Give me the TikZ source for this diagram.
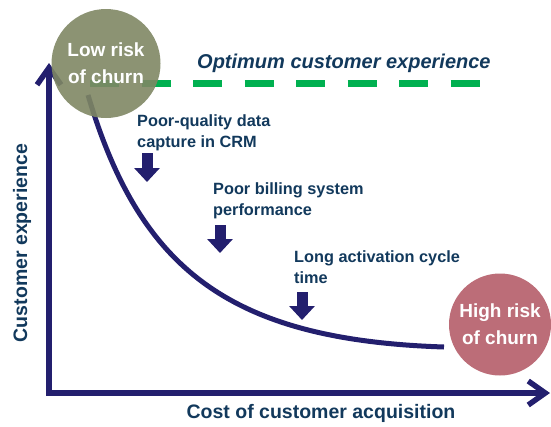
\documentclass[tikz,border=0pt]{standalone}
\usepackage{fontspec}
\setmainfont{Liberation Sans}
\usepackage{xcolor}
\usetikzlibrary{arrows.meta,positioning,calc}

\definecolor{navy}{HTML}{231F6E}
\definecolor{inkblue}{HTML}{12395C}
\definecolor{olive}{HTML}{7F8764}
\definecolor{rose}{HTML}{B55D69}
\definecolor{okgreen}{HTML}{00B050}

\begin{document}
\begin{tikzpicture}[
    x=1pt,y=-1pt,
    axis/.style={draw=navy, line width=5.5pt, {Straight Barb[length=17pt,width=24pt]}-{Straight Barb[length=17pt,width=24pt]}},
    riskcircle/.style={circle, fill opacity=0.9, text opacity=1, inner sep=0pt, text=white, align=center,
        font=\fontsize{19}{27}\selectfont\bfseries},
    cause/.style={anchor=north west, inner sep=0pt, align=left, text=inkblue,
        font=\fontsize{16.3}{21.5}\selectfont\bfseries},
    dnarrow/.style={draw=navy, line width=11pt, -{Triangle[width=25pt,length=14pt]}},
    axislabel/.style={text=inkblue, font=\fontsize{19.5}{22}\selectfont\bfseries}
]
    \useasboundingbox (0,0) rectangle (551,426);

    % Axes
    \coordinate (ytip) at (49,63);
    \coordinate (origin) at (49,393);
    \coordinate (xtip) at (550,393);
    \draw[axis] (ytip) -- (origin) -- (xtip);
    \node[axislabel, anchor=base] (xlabel) at (321,418) {Cost of customer acquisition};
    \node[axislabel, rotate=90] (ylabel) at (22,243) {Customer experience};

    % Optimum line
    \coordinate (optL) at (90,83);
    \coordinate (optR) at (481,83);
    \draw[okgreen, line width=7pt, dash pattern=on 29pt off 22.5pt] (optL) -- (optR);
    \node[anchor=base west, inner sep=0pt, text=inkblue,
        font=\fontsize{20}{24}\selectfont\bfseries\itshape] (optimum) at (197,68)
        {Optimum customer experience};

    % Curve
    \coordinate (start) at (88,95);
    \coordinate (finish) at (444,347);
    \draw[navy, line width=5pt] (start) .. controls (140,270) and (230,340) .. (finish);

    % Causes
    \node[cause] (cause1) at (137,114) {Poor-quality data\\capture in CRM};
    \node[cause] (cause2) at (213,182) {Poor billing system\\performance};
    \node[cause] (cause3) at (294,250) {Long activation cycle\\time};
    \draw[dnarrow] (147,153) -- (147,182);
    \draw[dnarrow] (220,225) -- (220,253);
    \draw[dnarrow] (302,292) -- (302,320);

    % Risk circles
    \node[riskcircle, fill=olive, minimum size=109pt] (low) at (106,63.5) {Low risk\\of churn};
    \node[riskcircle, fill=rose, minimum size=102pt] (high) at (500,324.5) {High risk\\of churn};
\end{tikzpicture}
\end{document}
